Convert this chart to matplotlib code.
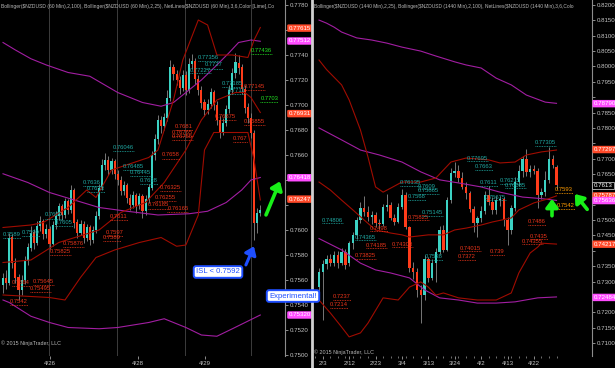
import numpy as np
import matplotlib
matplotlib.use('Agg')
import matplotlib.pyplot as plt
from matplotlib.lines import Line2D

plt.rcParams['font.family'] = ['Liberation Sans', 'DejaVu Sans']

# ---------------- LEFT PANEL (60 min) ----------------
L_open = [.7556,.7562,.7558,.7594,.7574,.7562,.7552,.7560,.7575,.7586,.7598,.7590,.7603,.7607,.7597,.7601,
          .7589,.7604,.7611,.7619,.7612,.7623,.7616,.7632,.7606,.7598,.7605,.7594,.7602,.7592,.7600,.7611,
          .7634,.7652,.7656,.7648,.7655,.7645,.7640,.7631,.7636,.7626,.7620,.7628,.7619,.7627,.7615,.7625,
          .7634,.7660,.7673,.7688,.7683,.7690,.7706,.7730,.7725,.7720,.7714,.7724,.7712,.7733,.7735,.7721,
          .7712,.7702,.7696,.7701,.7710,.7700,.7688,.7678,.7686,.7697,.7712,.7726,.7734,.7730,.7713,.7698,
          .7690,.7678,.7606,.7614]
L_close = [.7562,.7558,.7594,.7574,.7562,.7552,.7560,.7575,.7586,.7598,.7590,.7603,.7607,.7597,.7601,.7589,
           .7604,.7611,.7619,.7612,.7623,.7616,.7632,.7606,.7598,.7605,.7594,.7602,.7592,.7600,.7611,.7634,
           .7652,.7656,.7648,.7655,.7645,.7640,.7631,.7636,.7626,.7620,.7628,.7619,.7627,.7615,.7625,.7634,
           .7660,.7673,.7688,.7683,.7690,.7706,.7730,.7725,.7720,.7714,.7724,.7712,.7733,.7735,.7721,.7712,
           .7702,.7696,.7701,.7710,.7700,.7688,.7678,.7686,.7697,.7712,.7726,.7734,.7730,.7713,.7698,.7690,
           .7678,.7606,.7614,.7616]
L_high = [.7566,.7568,.7598,.7597,.7578,.7565,.7564,.7579,.7590,.7603,.7601,.7607,.7611,.7609,.7605,.7603,
          .7607,.7615,.7622,.7621,.7626,.7625,.7636,.7634,.7609,.7608,.7607,.7605,.7604,.7603,.7615,.7637,
          .7657,.7662,.7659,.7658,.7657,.7648,.7643,.7639,.7638,.7629,.7631,.7630,.7630,.7629,.7628,.7637,
          .7663,.7677,.7692,.7691,.7694,.7712,.7736,.7733,.7728,.7723,.7728,.7727,.7738,.7741,.7738,.7724,
          .7715,.7705,.7705,.7714,.7712,.7703,.7691,.7690,.7700,.7716,.7730,.7742,.7740,.7733,.7716,.7702,
          .7694,.7680,.7618,.7620]
L_low = [.7550,.7553,.7556,.7570,.7558,.7544,.7548,.7557,.7572,.7583,.7585,.7588,.7599,.7593,.7594,.7585,
         .7587,.7601,.7608,.7608,.7610,.7613,.7614,.7602,.7594,.7596,.7590,.7591,.7588,.7590,.7598,.7609,
         .7632,.7648,.7644,.7645,.7641,.7636,.7628,.7628,.7622,.7616,.7618,.7614,.7617,.7610,.7612,.7622,
         .7632,.7656,.7669,.7678,.7680,.7687,.7703,.7720,.7716,.7709,.7711,.7708,.7710,.7729,.7717,.7708,
         .7698,.7691,.7693,.7698,.7696,.7684,.7674,.7676,.7683,.7694,.7709,.7722,.7725,.7709,.7694,.7686,
         .7674,.7592,.7598,.7611]

# Bollinger(2,100) purple and Bollinger(2,25) dark red, sampled at bar indices
L_pu_x = [0,4,9,14,21,28,37,45,51,55,60,64,69,73,76,80,83]
L_pu_y = [.7750,.7744,.7737,.7732,.7726,.7723,.7710,.7702,.7699,.7702,.7712,.7720,.7732,.7742,.7750,.7752,.7751]
L_pm_x = [0,8,15,23,31,40,50,60,66,72,77,80,83]
L_pm_y = [.7645,.7638,.7630,.7624,.7618,.7615,.7612,.7613,.7615,.7622,.7632,.7640,.7642]
L_pl_x = [0,2,9,15,21,31,37,47,52,54,59,64,69,74,83]
L_pl_y = [.7544,.7542,.7531,.7526,.7522,.7521,.7522,.7526,.7529,.7527,.7522,.7516,.7515,.7521,.7532]
L_ru_x = [0,9,13,21,27,30,35,47,50,52,55,58,63,66,69,74,79,81,83]
L_ru_y = [.7602,.7604,.7606,.7618,.7632,.7626,.7648,.7658,.7664,.7680,.7704,.7736,.7768,.7764,.7740,.7740,.7738,.7752,.7762]
L_rm_x = [0,9,18,31,38,46,52,59,64,69,75,78,80,83]
L_rm_y = [.7574,.7576,.7590,.7600,.7614,.7622,.7638,.7664,.7688,.7704,.7710,.7710,.7706,.7694]
L_rl_x = [0,15,20,25,30,36,44,51,56,59,63,65,68,79,81,83]
L_rl_y = [.7548,.7546,.7544,.7562,.7578,.7584,.7590,.7594,.7587,.7588,.7612,.7664,.7678,.7678,.7656,.7624]

L_date_pos = [15.2, 43.5, 65.2]
L_date_lbl = ['4/26', '4/28', '4/29']
L_sessions = [14.8, 36.8, 58.7, 80.0]

L_axis_labels = [(0.77615, '0.77615', 'red'), (0.77512, '0.77512', 'mag'),
                 (0.76931, '0.76931', 'red'), (0.76418, '0.76418', 'mag'),
                 (0.76247, '0.76247', 'red'), (0.75320, '0.75320', 'mag')]

L_notes = [
    (80.0, .7744, '0.77436', 'g'), (83.0, .7705, '0.7703', 'g'),
    (77.7, .7715, '0.77145', 'r'), (77.7, .7687, '0.76855', 'r'), (74.2, .7673, '0.767', 'r'),
    (68.4, .7691, '0.76875', 'r'), (55.5, .7683, '0.7681', 'r'), (54.5, .7678, '0.76765', 'r'),
    (54.5, .7675, '0.76755', 'r'), (51.3, .7660, '0.7658', 'r'), (50.6, .7634, '0.76325', 'r'),
    (49.0, .7626, '0.76255', 'r'), (53.0, .7617, '0.76165', 'r'), (46.8, .7620, '0.76185', 'r'),
    (34.5, .7611, '0.7611', 'r'), (33.0, .7598, '0.7597', 'r'), (32.3, .7594, '0.7589', 'r'),
    (19.4, .7589, '0.75876', 'r'), (15.2, .7583, '0.75825', 'r'), (2.9, .7558, '0.7564', 'r'),
    (9.7, .7559, '0.75645', 'r'), (8.7, .7553, '0.75495', 'r'), (2.3, .7543, '0.7542', 'r'),
    (62.9, .7738, '0.77356', 'c'), (65.2, .7732, '0.7727', 'c'), (60.3, .7728, '0.77227', 'c'),
    (70.6, .7717, '0.77185', 'c'), (72.6, .7712, '0.7711', 'c'), (35.5, .7666, '0.76046', 'c'),
    (38.7, .7651, '0.76485', 'c'), (41.0, .7646, '0.76445', 'c'), (44.2, .7640, '0.7638', 'c'),
    (25.8, .7638, '0.7636', 'c'), (27.1, .7633, '0.7633', 'c'), (13.5, .7612, '0.7609', 'c'),
    (16.8, .7606, '0.7605', 'c'), (6.1, .7598, '0.7599', 'c'), (0.0, .7596, '0.7589', 'c'),
]

# ---------------- RIGHT PANEL (1440 min) ----------------
R_open = [.7282,.7330,.7356,.7372,.7360,.7388,.7360,.7395,.7362,.7425,.7451,.7500,.7539,.7525,.7510,.7518,
          .7491,.7488,.7543,.7548,.7507,.7495,.7543,.7582,.7478,.7344,.7330,.7273,.7255,.7372,.7312,.7360,
          .7396,.7468,.7403,.7565,.7653,.7660,.7637,.7608,.7588,.7535,.7490,.7506,.7530,.7582,.7560,.7532,
          .7565,.7570,.7500,.7468,.7539,.7625,.7660,.7700,.7656,.7665,.7660,.7582,.7590,.7631,.7700,.7672]
R_close = [.7330,.7356,.7372,.7360,.7388,.7360,.7395,.7355,.7425,.7451,.7500,.7539,.7525,.7510,.7518,.7491,
           .7488,.7543,.7548,.7507,.7495,.7543,.7582,.7478,.7344,.7330,.7273,.7255,.7372,.7312,.7360,.7396,
           .7468,.7403,.7565,.7653,.7660,.7637,.7608,.7588,.7535,.7490,.7506,.7530,.7582,.7560,.7532,.7565,
           .7570,.7500,.7468,.7539,.7625,.7660,.7700,.7656,.7665,.7660,.7582,.7590,.7631,.7700,.7680,.7613]
R_high = [.7345,.7370,.7385,.7390,.7398,.7400,.7410,.7405,.7432,.7460,.7510,.7560,.7580,.7545,.7530,.7528,
          .7505,.7552,.7585,.7560,.7520,.7555,.7600,.7590,.7482,.7365,.7345,.7290,.7385,.7380,.7375,.7410,
          .7480,.7485,.7575,.7670,.7690,.7680,.7655,.7625,.7595,.7545,.7515,.7545,.7595,.7610,.7575,.7580,
          .7580,.7575,.7510,.7548,.7640,.7680,.7710,.7730,.7680,.7680,.7670,.7605,.7660,.7739,.7712,.7680]
R_low = [.7260,.7175,.7340,.7350,.7352,.7345,.7355,.7340,.7352,.7405,.7440,.7490,.7515,.7498,.7488,.7478,
         .7470,.7482,.7530,.7500,.7485,.7490,.7535,.7470,.7330,.7310,.7250,.7165,.7240,.7300,.7305,.7300,
         .7390,.7395,.7398,.7555,.7640,.7625,.7600,.7570,.7525,.7460,.7445,.7495,.7520,.7550,.7520,.7520,
         .7545,.7480,.7420,.7455,.7530,.7610,.7640,.7645,.7640,.7650,.7540,.7570,.7580,.7620,.7670,.7600]

R_pu_x = [0,2,4,6,10,14,18,22,27,31,36,39,43,47,51,55,60,63]
R_pu_y = [.8151,.8141,.8128,.8112,.8093,.8086,.8076,.8063,.8050,.8034,.8015,.8005,.7995,.7962,.7940,.7907,.7884,.7880]
R_pm_x = [0,6,11,16,22,27,32,37,43,48,54,59,63]
R_pm_y = [.7800,.7761,.7728,.7712,.7689,.7657,.7631,.7621,.7608,.7591,.7575,.7570,.7564]
R_pl_x = [0,6,11,15,19,24,28,32,37,42,47,52,58,63]
R_pl_y = [.7440,.7403,.7360,.7338,.7328,.7312,.7273,.7247,.7240,.7230,.7230,.7234,.7247,.7250]
R_ru_x = [0,2,4,6,8,11,13,15,17,19,22,27,31,35,39,45,48,52,55,59,63]
R_ru_y = [.8021,.7990,.7965,.7940,.7891,.7793,.7705,.7608,.7591,.7604,.7624,.7624,.7637,.7689,.7702,.7696,.7686,.7689,.7712,.7722,.7728]
R_rm_x = [0,3,6,9,12,15,19,22,24,29,33,36,39,43,46,51,53,57,61,63]
R_rm_y = [.7624,.7598,.7565,.7533,.7500,.7468,.7458,.7452,.7445,.7452,.7452,.7468,.7474,.7484,.7494,.7507,.7533,.7556,.7570,.7579]
R_rl_x = [0,3,6,8,11,13,17,21,24,27,29,31,33,37,42,47,51,53,56,58,59,63]
R_rl_y = [.7240,.7198,.7152,.7120,.7133,.7165,.7247,.7240,.7282,.7299,.7282,.7256,.7263,.7247,.7240,.7240,.7263,.7328,.7393,.7412,.7425,.7422]

R_date_pos = [1, 8, 15, 22, 29, 36, 43, 50, 57]
R_date_lbl = ['2/3', '2/12', '2/23', '3/4', '3/13', '3/24', '4/2', '4/13', '4/22']

R_axis_labels = [(0.78790, '0.78790', 'mag'), (0.77297, '0.77297', 'red'),
                 (0.7613, '0.7613', 'gray'), (0.75787, '0.75787', 'red'),
                 (0.75636, '0.75636', 'mag'), (0.74217, '0.74217', 'red'),
                 (0.72484, '0.72484', 'mag')]

R_notes = [
    (0.8, .7500, '0.74806', 'c'), (3.7, .7250, '0.7237', 'r'), (2.9, .7224, '0.7214', 'r'),
    (9.5, .7386, '0.73825', 'r'), (9.5, .7445, '0.74365', 'c'), (12.5, .7419, '0.74185', 'r'),
    (13.5, .7474, '0.7498', 'r'), (19.4, .7422, '0.74303', 'r'), (21.5, .7621, '0.76135', 'c'),
    (26.3, .7611, '0.7609', 'c'), (26.3, .7595, '0.75865', 'c'), (23.6, .7578, '0.7568', 'c'),
    (23.6, .7510, '0.75825', 'r'), (27.3, .7526, '0.75145', 'c'), (28.0, .7380, '0.7538', 'c'),
    (37.4, .7409, '0.74015', 'r'), (36.9, .7380, '0.7372', 'r'), (45.4, .7399, '0.739', 'r'),
    (39.3, .7702, '0.77695', 'c'), (41.4, .7673, '0.7663', 'c'), (42.7, .7621, '0.7611', 'c'),
    (48.0, .7630, '0.76215', 'c'), (49.3, .7614, '0.76085', 'c'), (44.0, .7575, '0.75675', 'c'),
    (57.3, .7751, '0.77305', 'c'), (62.6, .7598, '0.7593', 'o'), (63.1, .7546, '0.7542', 'o'),
    (55.4, .7494, '0.7486', 'r'), (56.0, .7448, '0.7435', 'r'), (53.8, .7432, '0.74355', 'r'),
]

L_header = ('Bollinger($NZDUSD (60 Min),2,100), Bollinger($NZDUSD (60 Min),2,25), '
            'NetLines($NZDUSD (60 Min),3,6,Color [Lime],Co')
R_header = ('Bollinger($NZDUSD (1440 Min),2,25), Bollinger($NZDUSD (1440 Min),2,100), '
            'NetLines($NZDUSD (1440 Min),3,6,Colo')

# ---------------- STYLE ----------------
W, H = 615, 368
UP = '#3cd2c4'
DN = '#ff3c1a'
WICK = '#8a8a8a'
PURPLE = '#a21ea2'
DRED = '#a00c00'
TXT = '#c4c4c4'
NOTE_COL = {'r': '#e8341a', 'c': '#1fa8a2', 'g': '#22e022', 'o': '#ff9c00'}
LAB_COL = {'red': '#ff4a2a', 'mag': '#ff4cff', 'gray': '#000000'}

fig = plt.figure(figsize=(W / 100, H / 100), dpi=100, facecolor='black')
axL = fig.add_axes([0, 12 / H, 285 / W, 356 / H], facecolor='black')
axR = fig.add_axes([313 / W, 12 / H, 279 / W, 356 / H], facecolor='black')


def candles(ax, o, h, l, c, width, minh):
    o, h, l, c = map(np.asarray, (o, h, l, c))
    x = np.arange(len(o))
    ax.vlines(x, l, h, color=WICK, lw=0.6, zorder=2)
    bottom = np.minimum(o, c)
    height = np.maximum(np.abs(c - o), minh)
    cols = [UP if cc >= oo else DN for oo, cc in zip(o, c)]
    ax.bar(x, height, bottom=bottom, width=width, color=cols, lw=0, zorder=3)


def style_axis(ax, yticks, xpos, xlbl, xlim, ylim, labels, gap):
    ax.set_xlim(*xlim)
    ax.set_ylim(*ylim)
    for s in ('top', 'left', 'bottom'):
        ax.spines[s].set_visible(False)
    ax.spines['right'].set_color('#8c8c8c')
    ax.spines['right'].set_linewidth(0.8)
    ax.yaxis.tick_right()
    ax.set_yticks(yticks)
    # tick labels covered by the coloured price markers are not shown
    marks = [v for v, _, _ in labels]
    ax.set_yticklabels(['' if any(abs(v - m) < gap for m in marks) else '%.4f' % v
                        for v in yticks])
    ax.tick_params(axis='y', labelsize=4.4, colors=TXT, length=2, width=0.5, pad=1.5)
    ax.set_xticks(xpos)
    ax.set_xticklabels(xlbl)
    ax.tick_params(axis='x', labelsize=4.4, colors=TXT, length=2, width=0.5, pad=1.5)


def axis_labels(ax, labels, xoff):
    tr = ax.get_yaxis_transform()
    for y, t, kind in labels:
        if kind == 'gray':
            bb = dict(boxstyle='square,pad=0.2', fc='black', ec='#bdbdbd', lw=0.6)
        else:
            bb = dict(boxstyle='round,pad=0.2', fc=LAB_COL[kind], ec='none')
        ax.text(1 + xoff, y, t, transform=tr, fontsize=4.4, color='white', ha='left',
                va='center', bbox=bb, zorder=10, clip_on=False)


def notes(ax, items, cw, dy):
    for x, y, t, k in items:
        col = NOTE_COL[k]
        ax.text(x, y, t, color=col, fontsize=4.2, ha='left', va='center', zorder=6)
        ax.plot([x, x + cw * len(t)], [y - dy, y - dy], color=col, lw=0.6,
                ls=(0, (1, 1)), zorder=6)


# ----- left -----
for s in L_sessions:
    axL.axvline(s, color='#3c3c3c', lw=0.7, zorder=1)
axL.plot(L_pu_x, L_pu_y, color=PURPLE, lw=0.8, zorder=4)
axL.plot(L_pm_x, L_pm_y, color=PURPLE, lw=0.8, zorder=4)
axL.plot(L_pl_x, L_pl_y, color=PURPLE, lw=0.8, zorder=4)
axL.plot(L_ru_x, L_ru_y, color=DRED, lw=0.8, zorder=4)
axL.plot(L_rm_x, L_rm_y, color=DRED, lw=0.8, zorder=4)
axL.plot(L_rl_x, L_rl_y, color=DRED, lw=0.8, zorder=4)
candles(axL, L_open, L_high, L_low, L_close, 0.65, 0.00008)
style_axis(axL, np.round(np.arange(0.7500, 0.77801, 0.002), 4), L_date_pos, L_date_lbl,
           (-0.97, 90.97), (0.74992, 0.7784), L_axis_labels, 0.0006)
notes(axL, L_notes, 0.97, 0.00028)
axis_labels(axL, L_axis_labels, 0.012)

axL.text(0.003, 0.988, L_header, transform=axL.transAxes,
         fontsize=3.6, color='#b8b8b8', ha='left', va='top', zorder=8)
axL.text(0.005, 0.035, '\u00a9 2015 NinjaTrader, LLC', transform=axL.transAxes,
         fontsize=3.9, color='#b8b8b8', ha='left', va='center')

axL.annotate('', xy=(81.3, 0.7589), xytext=(78.0, 0.7570),
             arrowprops=dict(arrowstyle='-|>,head_width=0.45,head_length=0.6',
                             color='#1f4fff', lw=2.2, mutation_scale=8), zorder=9)
axL.annotate('', xy=(89.7, 0.7641), xytext=(84.5, 0.7610),
             arrowprops=dict(arrowstyle='-|>,head_width=0.45,head_length=0.6',
                             color='#18f018', lw=2.6, mutation_scale=8), zorder=9)
axL.text(0.765, 0.236, 'ISL < 0.7592', transform=axL.transAxes, fontsize=5.6,
         color='#1f4fff', ha='center', va='center', zorder=11,
         bbox=dict(boxstyle='round,pad=0.3', fc='white', ec='#1f4fff', lw=1.4))

# ----- right -----
axR.plot(R_pu_x, R_pu_y, color=PURPLE, lw=0.8, zorder=4)
axR.plot(R_pm_x, R_pm_y, color=PURPLE, lw=0.8, zorder=4)
axR.plot(R_pl_x, R_pl_y, color=PURPLE, lw=0.8, zorder=4)
axR.plot(R_ru_x, R_ru_y, color=DRED, lw=0.8, zorder=4)
axR.plot(R_rm_x, R_rm_y, color=DRED, lw=0.8, zorder=4)
axR.plot(R_rl_x, R_rl_y, color=DRED, lw=0.8, zorder=4)
candles(axR, R_open, R_high, R_low, R_close, 0.65, 0.0003)
style_axis(axR, np.round(np.arange(0.7100, 0.82001, 0.005), 4), R_date_pos, R_date_lbl,
           (-1.59, 72.41), (0.70578, 0.82163), R_axis_labels, 0.0022)
axR.set_xticks(np.arange(-1, 64, 2), minor=True)
axR.tick_params(axis='x', which='minor', length=1.5, width=0.5, colors='#9a9a9a')
notes(axR, R_notes, 0.8, 0.0011)
axis_labels(axR, R_axis_labels, 0.006)

axR.text(0.004, 0.988, R_header, transform=axR.transAxes,
         fontsize=3.55, color='#b8b8b8', ha='left', va='top', zorder=8)
axR.text(0.005, 0.01, '\u00a9 2015 NinjaTrader, LLC', transform=axR.transAxes,
         fontsize=3.9, color='#b8b8b8', ha='left', va='center')

axR.annotate('', xy=(61.8, 0.7578), xytext=(61.8, 0.7505),
             arrowprops=dict(arrowstyle='-|>,head_width=0.45,head_length=0.6',
                             color='#18f018', lw=2.6, mutation_scale=8), zorder=9)
axR.annotate('', xy=(67.4, 0.7592), xytext=(71.6, 0.7528),
             arrowprops=dict(arrowstyle='-|>,head_width=0.45,head_length=0.6',
                             color='#18f018', lw=2.6, mutation_scale=8), zorder=9)

# separator and overlay
fig.add_artist(Line2D([311.5 / W, 311.5 / W], [0, 1], color='#d0d0d0', lw=2.0))
fig.text(293 / W, 1 - 296 / H, 'Experimental!', fontsize=5.6, color='#1f4fff',
         ha='center', va='center', zorder=20,
         bbox=dict(boxstyle='round,pad=0.3', fc='white', ec='#1f4fff', lw=1.4))

fig.savefig('out.png', dpi=100, facecolor='black')
